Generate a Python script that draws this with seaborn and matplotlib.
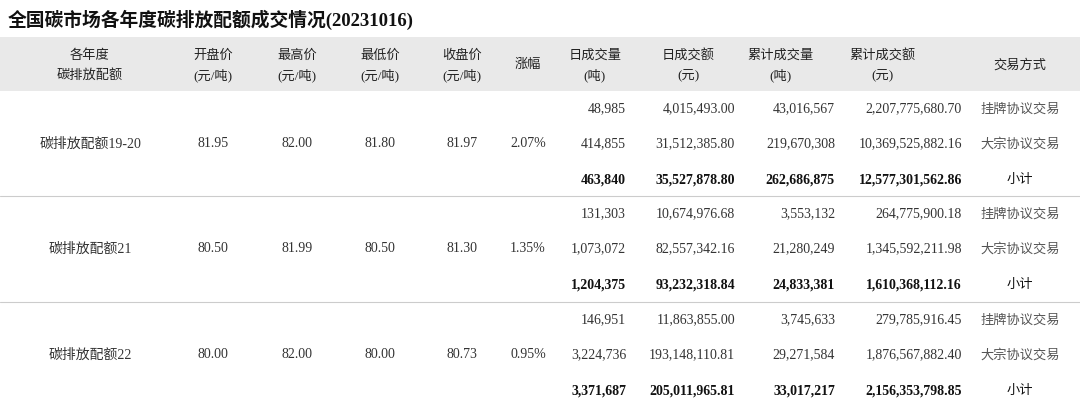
import matplotlib
matplotlib.use("Agg")
import matplotlib.pyplot as plt
import seaborn as sns

sns.set_theme(style="white")
plt.rcParams["font.family"] = ["Liberation Serif", "Noto Sans CJK SC"]

title = "全国碳市场各年度碳排放配额成交情况(20231016)"
headers = [("各年度", "碳排放配额"), ("开盘价", "(元/吨)"), ("最高价", "(元/吨)"), ("最低价", "(元/吨)"),
           ("收盘价", "(元/吨)"), ("涨幅", ""), ("日成交量", "(吨)"), ("日成交额", "(元)"),
           ("累计成交量", "(吨)"), ("累计成交额", "(元)"), ("交易方式", "")]
products = ["碳排放配额19-20", "碳排放配额21", "碳排放配额22"]
open_p = ["81.95", "80.50", "80.00"]
high_p = ["82.00", "81.99", "82.00"]
low_p = ["81.80", "80.50", "80.00"]
close_p = ["81.97", "81.30", "80.73"]
change = ["2.07%", "1.35%", "0.95%"]
day_vol = [["48,985", "414,855", "463,840"], ["131,303", "1,073,072", "1,204,375"], ["146,951", "3,224,736", "3,371,687"]]
day_amt = [["4,015,493.00", "31,512,385.80", "35,527,878.80"], ["10,674,976.68", "82,557,342.16", "93,232,318.84"],
           ["11,863,855.00", "193,148,110.81", "205,011,965.81"]]
cum_vol = [["43,016,567", "219,670,308", "262,686,875"], ["3,553,132", "21,280,249", "24,833,381"],
           ["3,745,633", "29,271,584", "33,017,217"]]
cum_amt = [["2,207,775,680.70", "10,369,525,882.16", "12,577,301,562.86"],
           ["264,775,900.18", "1,345,592,211.98", "1,610,368,112.16"],
           ["279,785,916.45", "1,876,567,882.40", "2,156,353,798.85"]]
methods = ["挂牌协议交易", "大宗协议交易", "小计"]

fig = plt.figure(figsize=(10.8, 4.14), dpi=100)
ax = fig.add_axes([0, 0, 1, 1])
ax.set_xlim(0, 1080); ax.set_ylim(414, 0); ax.axis("off")

ax.text(8, 20, title, fontsize=13.5, va="center", ha="left", color="#111", fontweight="bold")
ax.add_patch(plt.Rectangle((0, 38), 1080, 54, color="#e9e9e9", lw=0))
hx = [90, 213, 297, 380, 462, 528, 595, 688, 780, 882, 1020]
for x, (a, b) in zip(hx, headers):
    if b:
        ax.text(x, 56, a, fontsize=9.5, ha="center", va="center", color="#222")
        ax.text(x, 75, b, fontsize=9.5, ha="center", va="center", color="#222")
    else:
        ax.text(x, 65, a, fontsize=9.5, ha="center", va="center", color="#222")

right = [626, 735, 835, 962]
g_top = [92, 197, 303]
for g in range(3):
    y0 = g_top[g]
    ys = [y0 + 17, y0 + 52, y0 + 88]
    ym = ys[1]
    ax.text(90, ym, products[g], fontsize=10, ha="center", va="center", color="#333")
    for x, v in zip(hx[1:6], [open_p[g], high_p[g], low_p[g], close_p[g], change[g]]):
        ax.text(x, ym, v, fontsize=10, ha="center", va="center", color="#333")
    for i in range(3):
        bold = i == 2
        for x, col in zip(right, [day_vol, day_amt, cum_vol, cum_amt]):
            ax.text(x, ys[i], col[g][i], fontsize=10, ha="right", va="center",
                    color="#111" if bold else "#333", fontweight="bold" if bold else "normal")
        ax.text(1020, ys[i], methods[i], fontsize=9.5, ha="center", va="center",
                color="#111" if bold else "#555")
    if g > 0:
        ax.plot([0, 1080], [y0, y0], color="#cccccc", lw=0.8)

fig.savefig("out.png", dpi=100)
